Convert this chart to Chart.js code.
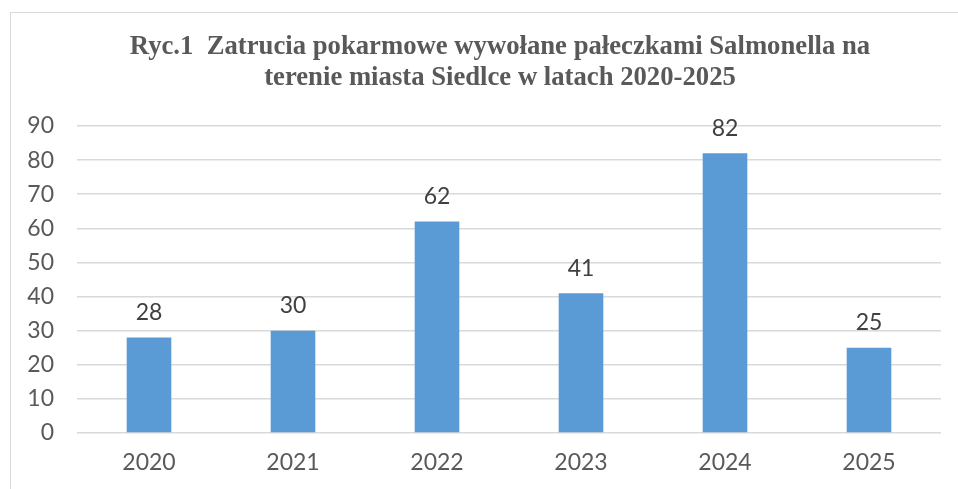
<!DOCTYPE html>
<html>
<head>
<meta charset="utf-8">
<script src="https://cdn.jsdelivr.net/npm/chart.js@4/dist/chart.umd.min.js"></script>
<style>
  html, body { margin: 0; padding: 0; background: #ffffff; overflow: hidden; }
  #wrap { position: relative; width: 958px; height: 489px; }
  #frame { position: absolute; left: 10px; top: 12px; width: 1100px; height: 1100px; border: 1px solid #D9D9D9; box-sizing: border-box; }
  canvas { position: absolute; left: 0; top: 0; }
</style>
</head>
<body>
<div id="wrap">
  <div id="frame"></div>
  <canvas id="c" width="958" height="489"></canvas>
</div>
<script>
const titleLines = ["Ryc.1  Zatrucia pokarmowe wywołane pałeczkami Salmonella na", "terenie miasta Siedlce w latach 2020-2025"];
const categories = ["2020", "2021", "2022", "2023", "2024", "2025"];
const values = [28, 30, 62, 41, 82, 25];
const yMin = 0, yMax = 90, yStep = 10;

const titleDraw = {
  id: 'titleDraw',
  afterDraw(chart) {
    const ctx = chart.ctx;
    ctx.save();
    ctx.font = 'bold 26.7px "Liberation Serif", "Times New Roman", serif';
    ctx.fillStyle = '#595959';
    ctx.textAlign = 'center';
    ctx.textBaseline = 'alphabetic';
    ctx.fillText(titleLines[0], 500, 54.3);
    ctx.fillText(titleLines[1], 500, 85);
    ctx.restore();
  }
};

const dataLabels = {
  id: 'dataLabels',
  afterDatasetsDraw(chart) {
    const ctx = chart.ctx;
    const meta = chart.getDatasetMeta(0);
    ctx.save();
    ctx.font = '23px Lato';
    ctx.fillStyle = '#404040';
    ctx.textAlign = 'center';
    ctx.textBaseline = 'alphabetic';
    meta.data.forEach((el, i) => {
      ctx.fillText(String(values[i]), el.x, el.y - 17.5);
    });
    ctx.restore();
  }
};

new Chart(document.getElementById('c'), {
  type: 'bar',
  data: {
    labels: categories,
    datasets: [{
      data: values,
      backgroundColor: '#5B9BD5',
      borderWidth: 0,
      categoryPercentage: 1,
      barPercentage: 0.31
    }]
  },
  options: {
    responsive: false,
    animation: false,
    devicePixelRatio: 1,
    layout: { padding: { left: 10, right: 17, top: 126, bottom: 0 } },
    plugins: {
      legend: { display: false },
      tooltip: { enabled: false },
      title: { display: false }
    },
    scales: {
      x: {
        afterFit(scale) { scale.height = 56; },
        grid: { display: false, drawTicks: false },
        border: { display: false },
        ticks: { color: '#595959', font: { family: 'Lato', size: 23, lineHeight: 1.2 }, padding: 16 }
      },
      y: {
        min: yMin,
        max: yMax,
        afterFit(scale) { scale.width = 67; },
        grid: { color: '#D9D9D9', lineWidth: 1.5, drawTicks: false },
        border: { display: false },
        ticks: { stepSize: yStep, color: '#595959', font: { family: 'Lato', size: 23 }, padding: 23, autoSkip: false }
      }
    }
  },
  plugins: [dataLabels, titleDraw]
});
</script>
</body>
</html>
